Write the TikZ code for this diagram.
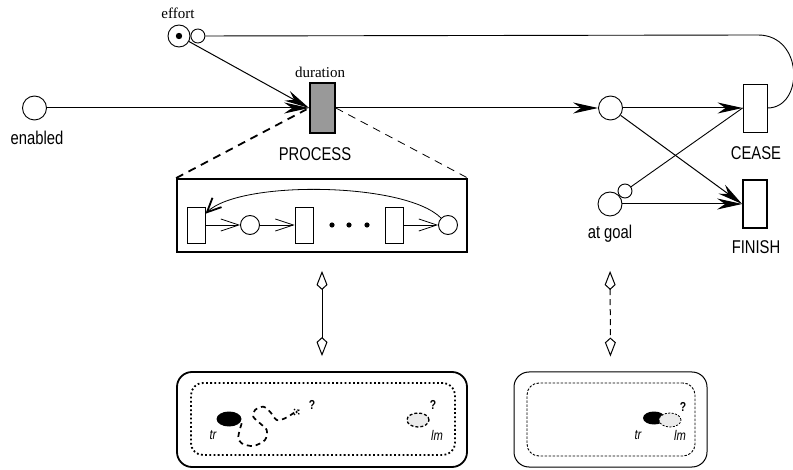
\documentclass[tikz,border=0pt]{standalone}
\usepackage{fontspec}
\setmainfont{Liberation Serif}
\newfontfamily\netfont[FakeStretch=0.8]{Liberation Sans}
\usetikzlibrary{arrows.meta, positioning, shapes.geometric}

\begin{document}
\begin{tikzpicture}[
    x=1pt, y=1pt, line width=0.9pt,
    place/.style = {draw, circle, minimum size=24pt, inner sep=0pt},
    tick/.style = {draw, circle, minimum size=14pt, inner sep=0pt},
    trans/.style = {draw, minimum width=24pt, minimum height=48pt, inner sep=0pt},
    subtrans/.style = {draw, minimum width=18pt, minimum height=36pt, inner sep=0pt},
    subplace/.style = {draw, circle, minimum size=19pt, inner sep=0pt},
    caption/.style = {font={\netfont\fontsize{18.5}{20}\selectfont}},
    tag/.style = {font={\fontsize{15}{16}\selectfont}},
    small/.style = {font={\netfont\itshape\fontsize{14}{14}\selectfont}},
    query/.style = {font={\netfont\bfseries\fontsize{13}{13}\selectfont}},
    blob/.style = {ellipse, fill=black, minimum width=22pt, minimum height=13pt, inner sep=0pt},
    lmark/.style = {draw, ellipse, fill=black!8, minimum width=22pt, minimum height=14pt, inner sep=0pt},
    arrow/.style = {line width=1pt, -{Stealth[length=25pt, width=11pt, inset=8pt]}},
    barb/.style = {line width=0.8pt, -{Straight Barb[length=18pt, width=12pt]}},
    view/.style = {line width=1pt, {Kite[open, length=19pt, width=11pt, inset=5pt]}-{Kite[open, length=19pt, width=11pt, inset=5pt]}}
  ]
  \useasboundingbox (0,0) rectangle (793,469);

  % Effort place with its token
  \node[place, minimum size=22pt] (effort) at (179,433) {};
  \fill (effort) circle (3.2pt);
  \node[tick, right=0pt of effort] (effortcheck) {};
  \node[tag] (efforttag) at (178,456) {effort};

  % Enabled place
  \node[place] (enabled) at (34.5,361) {};
  \node[caption] (enabledtag) at (37,331) {enabled};

  % Process transition
  \node[trans, fill=black!40, line width=1.8pt, minimum width=25pt, minimum height=50pt] (process) at (322.5,361) {};
  \node[tag] (durationtag) at (320,397) {duration};
  \node[caption] (processtag) at (315,315) {PROCESS};

  % Outcome places and transitions
  \node[place] (elapsed) at (610.5,361) {};
  \node[trans] (cease) at (755,361) {};
  \node[caption] (ceasetag) at (756,316) {CEASE};
  \node[trans, line width=1.8pt] (finish) at (755,265) {};
  \node[caption] (finishtag) at (756,222) {FINISH};
  \node[place] (atgoal) at (610,265) {};
  \node[tick] (goalcheck) at (625,278) {};
  \node[caption] (atgoaltag) at (610,235) {at goal};

  % Arcs of the main net
  \draw[arrow] (enabled) -- (process.west);
  \draw[arrow] (effort) -- (process.west);
  \draw[arrow] (process.east) -- (elapsed);
  \draw[arrow] (elapsed) -- (cease.west);
  \draw[arrow] (elapsed) -- (finish.west);
  \draw[arrow] (atgoal) -- (finish.west);
  \draw (goalcheck) -- (cease.west);
  \coordinate (loop) at (758,434);
  \draw (effortcheck) -- (loop) .. controls (804,434) and (804,361) .. (cease.east);

  % Subnet of the process
  \node[draw, line width=1.8pt, minimum width=290pt, minimum height=73pt] (subnet) at (322,253.5) {};
  \node[subtrans] (first) at (196,244) {};
  \node[subplace] (firstout) at (250,244) {};
  \node[subtrans] (second) at (304,244) {};
  \foreach \x in {332,349,367}
    \fill (\x,244) circle (2.6pt);
  \node[subtrans] (last) at (394,244) {};
  \node[subplace] (lastout) at (448,244) {};
  \draw[barb] (first) -- (firstout);
  \draw[barb] (firstout) -- (second);
  \draw[barb] (last) -- (lastout);
  \draw[line width=0.8pt, -{Straight Barb[length=14pt, width=13pt, line width=1.8pt]}]
    (lastout.north west) .. controls (405,287) and (240,289) .. (first.50);

  % Zoom lines
  \draw[line width=1.8pt, dash pattern=on 8pt off 6pt, shorten >=3pt] (subnet.north west) -- (process.west);
  \draw[line width=0.8pt, dash pattern=on 8pt off 6pt] (process.east) -- (subnet.north east);

  % Views of the world
  \node[draw, rounded corners=15pt, line width=1.8pt, minimum width=290pt, minimum height=95pt] (tracker) at (322,49.5) {};
  \node[draw, rounded corners=12pt, line width=1.8pt, dash pattern=on 1.8pt off 2.4pt, minimum width=264pt, minimum height=72pt] (trackerzone) at (323,50) {};
  \node[draw, rounded corners=15pt, line width=1pt, minimum width=193pt, minimum height=95pt] (goalview) at (610.5,49.5) {};
  \node[draw, rounded corners=12pt, line width=0.9pt, dash pattern=on 2.5pt off 1.5pt, minimum width=168pt, minimum height=73pt] (goalzone) at (611,49.5) {};

  \draw[view, shorten <=18pt, shorten >=15pt] (subnet.south) -- (tracker.north);
  \draw[view, dash pattern=on 6pt off 4pt, shorten <=18pt, shorten >=15pt] (atgoal |- subnet.south) -- (goalview.north);

  % Tracker searching for the landmark
  \node[blob, minimum width=25pt, minimum height=15pt] (robot) at (229,50) {};
  \draw[line width=1.7pt, dash pattern=on 5pt off 4pt] plot[smooth] coordinates {
    (241.7,45.7) (238.3,32.3) (241.7,25.7) (253.3,23) (265,29) (266.7,39) (260,45.7)
    (253.3,52.3) (255,59) (263.3,62.3) (270,57.3) (276.7,49) (285,50.7) (293.3,55.7) (298.3,59)};
  \draw[line width=1.2pt, dash pattern=on 1.5pt off 1.5pt] (294,54) -- (300,60) (294,60) -- (300,54);
  \node[query] (robotquery) at (312,64) {?};
  \node[small] (robottag) at (213,34) {tr};
  \node[lmark, line width=1.3pt, dash pattern=on 3pt off 2pt] (landmark) at (418,49) {};
  \node[query] (landmarkquery) at (433,64) {?};
  \node[small] (landmarktag) at (437,34) {lm};

  % Tracker at the landmark
  \node[blob] (robotgoal) at (654,51) {};
  \node[lmark, line width=0.8pt, dash pattern=on 2pt off 1.5pt] (landmarkgoal) at (670,49) {};
  \node[query] (goalquery) at (683,62) {?};
  \node[small] (robotgoaltag) at (638,34) {tr};
  \node[small] (landmarkgoaltag) at (680,34) {lm};

\end{tikzpicture}
\end{document}
